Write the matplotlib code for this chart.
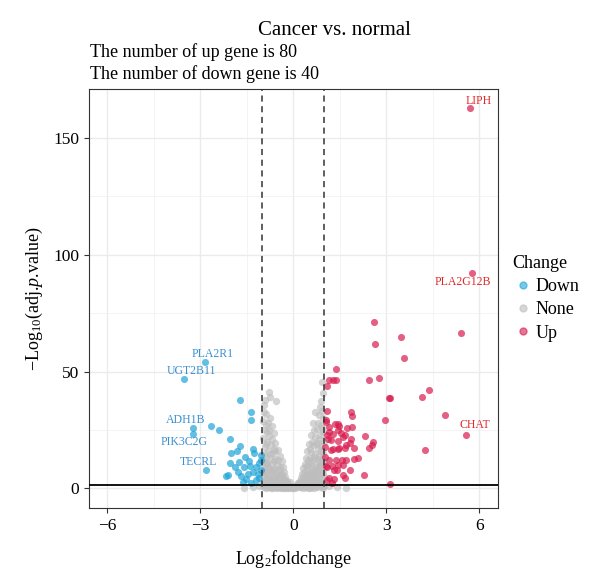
import matplotlib
matplotlib.use('Agg')
import matplotlib.pyplot as plt
from matplotlib.lines import Line2D

plt.rcParams['font.family'] = ['Liberation Serif', 'DejaVu Serif']
plt.rcParams['mathtext.fontset'] = 'custom'
plt.rcParams['mathtext.rm'] = 'Liberation Serif'
plt.rcParams['mathtext.it'] = 'Liberation Serif:italic'

# data
up_x = [5.70, 5.76, 5.58, 2.61, 2.62, 3.47, 3.56, 5.40, 1.39, 1.27,
        1.38, 2.43, 2.75, 3.08, 3.13, 4.14, 4.39, 4.90, 1.07, 1.07,
        1.86, 1.90, 2.97, 1.05, 1.34, 1.45, 1.48, 1.43, 1.73, 1.89,
        1.16, 1.27, 1.54, 1.68, 2.32, 2.56, 2.54, 2.45, 1.86, 1.83,
        1.43, 1.11, 1.03, 1.27, 1.45, 1.48, 1.68, 1.97, 4.23, 1.03,
        1.38, 1.57, 1.97, 2.07, 1.25, 1.43, 1.59, 1.05, 1.40, 1.83,
        1.16, 1.32, 1.59, 1.65, 2.27, 3.10, 1.07, 1.25, 1.16, 1.05,
        1.16, 1.09, 1.21, 1.69, 1.16, 1.69, 1.09, 1.30, 1.61, 1.21]
up_y = [163.0, 92.0, 23.0, 71.0, 62.0, 64.7, 55.6, 66.6, 50.9, 46.4,
        46.4, 46.4, 47.4, 38.8, 38.8, 39.0, 42.0, 31.3, 43.7, 33.0,
        32.7, 31.0, 29.1, 28.4, 27.4, 27.4, 26.6, 24.9, 25.6, 26.3,
        24.1, 23.4, 23.7, 22.7, 22.3, 19.8, 18.4, 17.4, 20.9, 19.2,
        20.1, 21.3, 17.7, 17.0, 16.6, 17.4, 17.4, 17.4, 16.3, 13.4,
        12.3, 12.3, 12.7, 13.0, 9.4, 9.9, 9.9, 9.4, 8.0, 7.7,
        4.6, 4.1, 5.6, 4.4, 5.6, 2.0, 3.4, 2.3, 46.3, 29.1,
        26.3, 22.7, 16.3, 18.4, 12.0, 12.0, 9.1, 7.7, 22.0, 20.6]

down_x = [-2.86, -3.54, -3.24, -3.24, -2.81, -1.71, -1.38, -1.38, -2.66, -2.40,
          -2.06, -1.72, -1.82, -1.31, -1.26, -1.56, -2.04, -2.11, -2.16, -1.76,
          -1.44, -1.39, -1.20, -1.04, -1.10, -1.60, -1.70, -1.53, -1.38, -1.31,
          -1.15, -1.78, -1.04, -1.22, -1.48, -1.90, -1.12, -1.62, -1.05, -2.00]
down_y = [54.0, 47.0, 25.9, 23.3, 7.7, 37.7, 32.7, 29.3, 26.6, 24.9,
          21.0, 18.0, 15.9, 17.0, 15.1, 13.3, 10.6, 5.6, 5.3, 11.3,
          11.6, 9.4, 9.1, 14.1, 10.6, 8.9, 5.1, 4.1, 2.3, 7.0,
          6.3, 7.0, 12.0, 3.5, 6.0, 9.0, 4.5, 2.8, 8.0, 15.0]

none_x = [-0.80, -0.75, -0.56, -0.94, -0.88, -0.98, -0.83, -0.70, -0.92, -0.64,
          -0.78, -0.97, -0.86, -0.58, -0.72, -0.93, -0.50, -0.81, -0.66, -0.96,
          -0.44, -0.88, -0.74, -0.58, -0.98, -0.38, -0.84, -0.68, -0.52, -0.92,
          -0.34, -0.78, -0.62, -0.46, -0.97, -0.88, -0.30, -0.72, -0.56, -0.40,
          -0.82, -0.94, -0.26, -0.66, -0.50, -0.35, -0.76, -0.90, -0.22, -0.60,
          -0.44, -0.98, -0.82, -0.30, -0.68, -0.18, -0.52, -0.38, -0.88, -0.74,
          -0.14, -0.60, -0.26, -0.46, -0.95, -0.10, -0.80, -0.34, -0.66, -0.20,
          -0.52, -0.06, -0.90, -0.40, -0.15, -0.72, -0.28, -0.62, -0.85, -0.76,
          -0.92, -0.95,
          0.93, 0.96, 0.90, 0.71, 0.82, 0.97, 0.62, 0.88, 0.76, 0.95,
          0.56, 0.70, 0.84, 0.98, 0.50, 0.64, 0.90, 0.78, 0.44, 0.58,
          0.96, 0.70, 0.84, 0.40, 0.52, 0.92, 0.64, 0.78, 0.36, 0.98,
          0.48, 0.86, 0.60, 0.72, 0.32, 0.94, 0.44, 0.80, 0.56, 0.66,
          0.28, 0.88, 0.40, 0.74, 0.52, 0.98, 0.24, 0.62, 0.84, 0.36,
          0.46, 0.70, 0.20, 0.92, 0.56, 0.30, 0.80, 0.42, 0.16, 0.66,
          0.96, 0.50, 0.26, 0.12, 0.74, 0.36, 0.58, 0.88, 0.08, 0.20,
          0.46, 0.68, 0.04, 0.30, 0.95, 0.54, 0.86, 0.92, 0.66, 0.80,
          0.00, -0.02, 0.02, -1.10, -1.30, 1.15, 1.40, -1.60, 1.70, -0.12,
          0.14, -0.32, 0.34, -0.48, 0.48, -0.70, 0.72, -0.86, 0.84]
none_y = [41.3, 39.1, 37.4, 35.5, 32.0, 29.0, 28.0, 26.5, 25.0, 23.5,
          22.5, 21.5, 20.0, 19.5, 18.5, 17.5, 16.5, 16.0, 15.0, 14.5,
          14.0, 13.5, 13.0, 12.5, 12.0, 11.5, 11.0, 10.5, 10.0, 9.5,
          9.0, 8.8, 8.3, 7.8, 7.5, 7.0, 6.8, 6.5, 6.2, 5.8,
          5.5, 5.0, 4.8, 4.6, 4.3, 4.0, 3.8, 3.5, 3.2, 3.0,
          2.8, 2.6, 2.4, 2.2, 2.0, 1.8, 1.6, 1.4, 1.3, 1.1,
          1.0, 0.9, 0.8, 0.6, 0.5, 0.5, 0.4, 0.3, 0.3, 0.2,
          0.2, 0.2, 0.1, 0.1, 0.1, 0.1, 0.05, 17.0, 24.0, 30.0,
          38.0, 32.5,
          45.6, 41.0, 37.5, 32.7, 31.5, 30.0, 28.0, 27.0, 25.5, 24.0,
          23.0, 22.0, 21.0, 20.0, 19.0, 18.5, 18.0, 17.0, 16.0, 15.5,
          15.0, 14.5, 14.0, 13.0, 12.8, 12.5, 12.0, 11.5, 10.5, 10.2,
          10.0, 9.8, 9.5, 9.0, 8.5, 8.0, 7.8, 7.5, 7.2, 6.8,
          6.3, 6.0, 5.7, 5.4, 5.1, 4.8, 4.5, 4.3, 4.0, 3.7,
          3.4, 3.2, 3.0, 2.8, 2.6, 2.3, 2.1, 1.9, 1.7, 1.6,
          1.4, 1.3, 1.1, 0.9, 0.9, 0.7, 0.6, 0.5, 0.4, 0.4,
          0.3, 0.2, 0.1, 0.1, 0.1, 0.05, 35.0, 33.0, 25.0, 19.5,
          0.3, 0.6, 1.0, 0.9, 0.5, 1.0, 0.4, 0.2, 0.3, 2.5,
          2.2, 3.5, 3.3, 5.0, 4.6, 8.0, 7.0, 10.5, 9.5]

# extra grey genes filling the dense part of the cloud
none2_x = [-0.90, -0.80, -0.68, -0.88, -0.60, -0.76, -0.92, -0.50, -0.64, -0.42,
           -0.84, -0.70, -0.54, -0.36, -0.96, -0.86, -0.62, -0.46, -0.30, -0.72,
           -0.54, -0.38, -0.24, -0.92, -0.78, -0.64, -0.48, -0.32, -0.18, -0.08,
           -0.56, -0.42, -0.84, -0.22, -0.98, -0.70,
           0.80, 0.92, 0.60, 0.86, 0.72, 0.54, 0.88, 0.66, 0.46, 0.80,
           0.94, 0.56, 0.40, 0.68, 0.90, 0.34, 0.50, 0.78, 0.62, 0.94,
           0.30, 0.44, 0.70, 0.86, 0.26, 0.40, 0.60, 0.76, 0.14, 0.52,
           0.34, 0.84, 0.62, 0.22, 0.42, 0.76, 0.10, 0.98]
none2_y = [27.0, 25.0, 21.0, 19.0, 16.0, 14.5, 11.0, 12.0, 11.5, 9.0,
           9.0, 7.5, 7.0, 6.0, 6.5, 4.5, 5.0, 5.0, 4.0, 3.0,
           2.5, 2.8, 2.5, 2.0, 1.5, 1.2, 1.0, 1.6, 1.2, 0.8,
           0.5, 0.4, 0.7, 0.4, 1.0, 0.6,
           28.0, 26.0, 20.0, 23.0, 19.0, 17.0, 15.8, 13.5, 12.0, 12.5,
           11.0, 10.8, 9.5, 8.0, 9.0, 7.0, 6.5, 6.2, 5.5, 6.0,
           5.0, 4.5, 4.5, 3.0, 2.2, 2.6, 3.5, 2.8, 2.2, 1.8,
           1.4, 1.2, 1.0, 0.7, 0.9, 0.4, 1.3, 0.8]

labels = ['PLA2R1', 'UGT2B11', 'ADH1B', 'PIK3C2G', 'TECRL', 'LIPH', 'PLA2G12B', 'CHAT']
label_x = [-2.61, -3.30, -3.49, -3.52, -3.05, 5.97, 5.48, 5.86]
label_y = [57.4, 50.1, 29.4, 19.6, 11.1, 165.7, 88.2, 27.0]
label_col = ['#3a8fd0'] * 5 + ['#e02a2a'] * 3

blue = '#1fa4d8'
grey = '#bdbdbd'
red = '#d81b4e'

fig = plt.figure(figsize=(6, 5.82), dpi=100)
ax = fig.add_axes([0.148, 0.127, 0.682, 0.72])

ax.scatter(none_x + none2_x, none_y + none2_y, s=28, color=grey, alpha=0.65, linewidths=0, zorder=3)
ax.scatter(down_x, down_y, s=26, color=blue, alpha=0.7, linewidths=0, zorder=3)
ax.scatter(up_x, up_y, s=26, color=red, alpha=0.7, linewidths=0, zorder=3)

ax.axhline(1.3, color='black', lw=1.3, zorder=4)
ax.axvline(-1, color='#333333', lw=1.1, ls=(0, (4, 3)), zorder=4)
ax.axvline(1, color='#333333', lw=1.1, ls=(0, (4, 3)), zorder=4)

for t, x, y, c in zip(labels, label_x, label_y, label_col):
    ax.text(x, y, t, color=c, fontsize=8.5, ha='center', va='center', zorder=5)

ax.set_xlim(-6.6, 6.6)
ax.set_ylim(-8.5, 171)
ax.set_xticks([-6, -3, 0, 3, 6])
ax.set_xticklabels(['\u22126', '\u22123', '0', '3', '6'])
ax.set_yticks([0, 50, 100, 150])
ax.set_xticks([-4.5, -1.5, 1.5, 4.5], minor=True)
ax.set_yticks([25, 75, 125], minor=True)
ax.grid(which='major', color='#ebebeb', lw=1.0, zorder=0)
ax.grid(which='minor', color='#f2f2f2', lw=0.6, zorder=0)
ax.set_axisbelow(True)
ax.tick_params(which='major', labelsize=12.5, length=3.5, color='#333333', width=0.8)
ax.tick_params(which='minor', length=0)
for s in ax.spines.values():
    s.set_color('#333333')
    s.set_linewidth(0.8)

ax.set_xlabel('Log$_{2}$foldchange', fontsize=13, labelpad=10)
ax.set_ylabel('\u2212Log$_{10}$(adj.$\\mathit{p}$.value)', fontsize=13, labelpad=6)

fig.text(0.558, 0.948, 'Cancer vs. normal', fontsize=15, ha='center', va='center')
fig.text(0.150, 0.910, 'The number of up gene is 80', fontsize=13, ha='left', va='center')
fig.text(0.150, 0.872, 'The number of down gene is 40', fontsize=13, ha='left', va='center')

handles = [Line2D([], [], ls='', marker='o', ms=5, color=c, alpha=0.6) for c in (blue, grey, red)]
fig.legend(handles, ['Down', 'None', 'Up'], title='Change', loc='upper left',
           bbox_to_anchor=(0.842, 0.575), frameon=False, fontsize=13, title_fontsize=13,
           handletextpad=0.1, labelspacing=0.35, alignment='left', handlelength=1.2,
           borderaxespad=0)

fig.savefig('out.png', dpi=100)
